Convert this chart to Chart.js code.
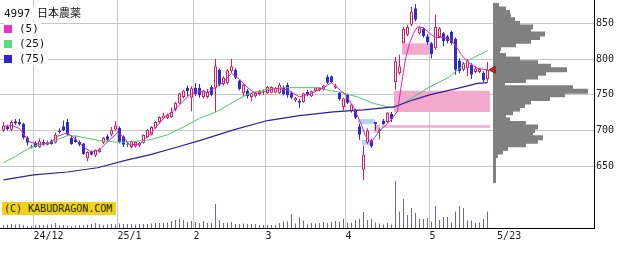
<!DOCTYPE html>
<html>
<head>
<meta charset="utf-8">
<title>4997 日本農薬</title>
<script src="https://cdn.jsdelivr.net/npm/chart.js@4.4.1/dist/chart.umd.min.js"></script>
<style>
  body { margin: 0; background: #fff; }
  #wrap { position: relative; width: 639px; height: 255px; }
  .lg { position: absolute; left: 4px; font: 11px "DejaVu Sans Mono", "Noto Sans CJK JP", monospace; color: #111; background: #fff; line-height: 13px; padding-right: 2px; white-space: nowrap; }
  .sw { display: inline-block; width: 8px; height: 8px; margin-right: 7px; vertical-align: -1px; }
  #copy { position: absolute; left: 2px; top: 202px; width: 114px; height: 13px; background: #f0d21c; font: 10px "DejaVu Sans Mono", monospace; line-height: 13px; color: #222; padding-left: 2px; box-sizing: border-box; white-space: nowrap; }
</style>
</head>
<body>
<div id="wrap">
  <canvas id="chart" width="639" height="255"></canvas>
  <div class="lg" style="top:7px">4997 日本農薬</div>
  <div class="lg" style="top:22px"><span class="sw" style="background:#ee33cc"></span>(5)</div>
  <div class="lg" style="top:37px"><span class="sw" style="background:#55dd77"></span>(25)</div>
  <div class="lg" style="top:52px"><span class="sw" style="background:#3322cc"></span>(75)</div>
  <div id="copy">(C) KABUDRAGON.COM</div>
</div>
<script>
// ---------------------------------------------------------------------------
// Daily prices (one entry per trading day, 24/11 .. 25/5/23)
// ---------------------------------------------------------------------------

var opens = [700,706,701,713,712,710,690,677,683,677, 684,680,686,683,700,706,712,690,688,684,
  682,661,670,665,670,683,692,694,701,704, 692,681,677,678,679,683,691,694,704,712,
  717,718,719,729,738,747,760,746,760,760, 747,747,761,760,785,765,766,783,785,770,
  752,756,747,748,751,755,752,753,753,752, 760,764,753,742,742,740,754,748,755,756,
  757,775,776,760,753,733,750,727,729,706, 645,683,686,712,700,714,712,723,768,780,
  822,834,848,871,836,842,832,822,815,831, 836,832,838,828,798,785,787,792,782,782,
  781,772];
var highs = [712,708,714,716,716,711,692,680,685,689, 687,686,688,697,703,714,716,693,693,686,
  683,671,672,674,676,691,695,705,713,706, 693,684,686,685,684,695,702,706,713,720,
  725,724,732,740,753,757,763,762,766,765, 757,758,763,800,787,776,786,800,787,771,
  766,758,753,754,756,757,762,762,761,767, 763,767,755,747,744,753,757,756,761,761,
  764,778,777,765,754,746,751,737,730,709, 679,703,688,712,704,716,726,726,803,806,
  845,848,873,877,846,844,835,824,862,845, 838,834,840,830,801,796,800,794,790,788,
  783,796];
var lows = [698,700,699,708,707,688,679,675,676,676, 679,679,680,682,696,699,693,680,683,678,
  666,657,665,663,669,681,685,692,700,682, 677,677,675,676,677,682,690,693,703,710,
  716,716,718,727,737,745,748,727,748,746, 745,745,748,726,762,763,764,781,772,756,
  748,745,741,746,749,750,751,752,752,751, 749,746,744,740,732,739,748,747,754,755,
  756,765,766,758,742,728,737,725,716,687, 631,681,676,700,688,708,711,712,757,778,
  822,832,846,853,834,830,820,801,813,829, 818,822,820,778,780,783,776,772,780,780,
  768,768];
var closes = [707,702,712,710,709,690,683,677,677,685, 680,684,681,694,698,700,694,681,684,680,
  667,670,666,673,674,690,687,701,707,684, 680,681,685,684,683,694,701,705,712,719,
  721,722,726,739,752,756,755,759,751,749, 756,754,750,790,764,774,784,790,774,758,
  764,748,752,753,755,755,761,761,760,764, 751,749,746,746,739,752,750,755,760,760,
  763,767,768,763,744,745,739,736,718,694, 666,700,678,709,700,709,725,716,797,790,
  842,845,866,855,844,832,823,807,845,843, 825,825,822,785,783,794,797,778,787,786,
  770,785];
var volumes = [6,7,8,7,8,6,4,4,6,6, 6,7,7,10,6,6,5,4,5,6,
  6,7,8,10,8,6,7,8,7,9, 8,8,8,7,8,8,8,9,10,10,
  10,11,14,16,18,16,12,14,12,10, 14,10,10,48,16,10,10,12,8,8,
  9,8,8,8,6,6,6,6,6,10, 13,13,28,9,21,15,7,10,9,10,
  12,10,12,14,12,18,11,11,16,18, 32,16,18,11,9,7,10,7,94,33,
  58,26,40,30,18,18,20,13,44,16, 22,22,11,33,44,40,15,15,10,11,
  18,33];

// moving averages (day index -> price)
var ma5Days = [0,2,4,6.5,9,11.5,13.5,16,18,20,22,24,26,28.5,30,31.5,34,36.5,40,43.5,46.5,49,51,53,55,57,59,61,63,65,68,71,74,77,80,82,83.5,85.5,87.5,89.5,90.5,92,94,96.5,98.5,99.5,100.5,101.5,102.5,103.5,105,106.5,108,110,112,113.5,114.5,116,118.5,121];
var ma5Vals = [706,707,703,684,681,682,692,697,688,677,670,673,684,697,691,680,681,694,717,733,750,755,753,760,768,780,772,760,752,754,759,757,747,752,760,767,760,750,733,708,692,684,700,712,727,765,800,822,836,845,844,836,830,830,826,815,806,796,787,785];
var ma25Days = [0,3,6.5,9,12.5,16,18.5,21,24,28,31,36.5,41,45,49,53.5,57.5,61.5,65,70,75,79,81.5,84,88.5,92.5,97,99,102.5,106.5,111.5,116.5,121];
var ma25Vals = [655,664,676,680,685,693,692,689,686,684,684,687,694,705,717,727,740,752,757,760,760,760,756,754,747,738,732,735,747,761,775,799,812];
var ma75Days = [0,7.5,16,23.5,31,36.5,43.5,49,57.5,66,74,82.5,90,97.5,102.5,106.5,113.5,118.5,121];
var ma75Vals = [631,638,642,648,659,666,677,686,701,714,721,726,729,733,743,750,759,766,767];

// price gaps (windows) still drawn on the chart
var gapFrom = [88.6, 89.6, 92.6, 94.6, 97.6, 99.6];
var gapTo   = [92.9, 92.1, 94.1, 121.6, 121.6, 106.4];
var gapLow  = [709, 680, 697, 704, 726, 806];
var gapHigh = [716, 687, 708, 707.5, 755.5, 822];
var gapDown = [true, true, false, false, false, false];

// volume by price profile
var profilePrices = [630,635,640,645,650,655,660,665,670,675, 680,685,690,695,700,705,710,715,720,725,
  730,735,740,745,750,755,760,765,770,775, 780,785,790,795,800,805,810,815,820,825,
  830,835,840,845,850,855,860,865,870,875];
var profileVols = [3,3,3,3,3,3,3,5,10,15, 33,45,50,40,42,45,33,17,13,20,
  27,32,38,57,72,95,80,12,33,45, 53,74,58,45,27,13,7,8,23,38,
  47,52,38,40,27,22,18,17,13,6];

// axis ticks
var monthTicks = [7.5, 28.5, 47.5, 65.5, 85.5, 106.5, 123.4];
var monthLabels = ['24/12', '25/1', '2', '3', '4', '5', '5/23'];
var priceTicks = [650, 700, 750, 800, 850];

// ---------------------------------------------------------------------------
// Build chart
// ---------------------------------------------------------------------------

var UP = '#dc1a5c', DOWN = '#2d2dcc', DOJI = '#1a8a1a';
var lastIdx = closes.length - 1;

function dir(i) {
  return closes[i] > opens[i] ? 1 : (closes[i] < opens[i] ? -1 : 0);
}
function candleColor(i) {
  var d = dir(i);
  return d > 0 ? UP : (d < 0 ? DOWN : DOJI);
}

var bodies = [], wicks = [], vols = [];
for (var i = 0; i < closes.length; i++) {
  var b = dir(i) === 0 ? [opens[i] - 0.7, opens[i] + 0.7] : [opens[i], closes[i]];
  bodies.push({x: i, y: b});
  wicks.push({x: i, y: [lows[i], highs[i]]});
  vols.push({x: i, y: volumes[i]});
}

function pairs(days, vals) {
  return days.map(function (d, k) { return {x: d, y: vals[k]}; });
}

var datasets = [];

// gap boxes (two lines filled between)
for (var g = 0; g < gapFrom.length; g++) {
  var col = gapDown[g] ? '#b2d4f2' : '#f3a9cc';
  datasets.push({
    type: 'line', order: 20, data: [{x: gapFrom[g], y: gapHigh[g]}, {x: gapTo[g], y: gapHigh[g]}],
    fill: '+1', backgroundColor: col, borderWidth: 0, pointRadius: 0
  });
  datasets.push({
    type: 'line', order: 20, data: [{x: gapFrom[g], y: gapLow[g]}, {x: gapTo[g], y: gapLow[g]}],
    fill: false, borderWidth: 0, pointRadius: 0
  });
}

datasets.push({
  type: 'bar', order: 15, indexAxis: 'y', xAxisID: 'xp', yAxisID: 'y',
  data: profilePrices.map(function (p, k) { return {x: profileVols[k], y: p}; }),
  backgroundColor: '#808080', barThickness: 5, inflateAmount: 0, grouped: false
});

datasets.push({
  type: 'bar', order: 12, yAxisID: 'yv', data: vols, grouped: false,
  barThickness: 1, inflateAmount: 0, backgroundColor: '#6b6b9b'
});

datasets.push({
  type: 'bar', order: 10, data: wicks, grouped: false, barThickness: 1, inflateAmount: 0,
  backgroundColor: function (ctx) { return candleColor(ctx.dataIndex); }
});

datasets.push({
  type: 'bar', order: 9, data: bodies, grouped: false, barThickness: 3, inflateAmount: 0,
  borderWidth: 1, borderSkipped: false,
  borderColor: function (ctx) { return candleColor(ctx.dataIndex); },
  backgroundColor: function (ctx) { return dir(ctx.dataIndex) > 0 ? '#ffffff' : candleColor(ctx.dataIndex); }
});

datasets.push({ type: 'line', order: 6, data: pairs(ma25Days, ma25Vals), borderColor: '#4cc86c', borderWidth: 1, pointRadius: 0, fill: false });
datasets.push({ type: 'line', order: 5, data: pairs(ma75Days, ma75Vals), borderColor: '#2f1ea0', borderWidth: 1.2, pointRadius: 0, fill: false });
datasets.push({ type: 'line', order: 4, data: pairs(ma5Days, ma5Vals), borderColor: '#e020c0', borderWidth: 1, pointRadius: 0, fill: false });

datasets.push({
  type: 'line', order: 0, showLine: false, data: [{x: lastIdx + 1.4, y: closes[lastIdx]}],
  pointStyle: 'triangle', rotation: -90, pointRadius: 4,
  backgroundColor: '#ee1c1c', borderColor: '#771111', borderWidth: 1
});

var tickFont = {family: '"DejaVu Sans Mono", monospace', size: 10};

var chart = new Chart(document.getElementById('chart'), {
  type: 'bar',
  data: {datasets: datasets},
  options: {
    responsive: false,
    animation: false,
    events: [],
    layout: {padding: 0, autoPadding: false},
    plugins: {legend: {display: false}, tooltip: {enabled: false}},
    scales: {
      x: {
        type: 'linear', min: -0.875, max: 147.625, offset: false,
        afterBuildTicks: function (s) { s.ticks = monthTicks.map(function (v) { return {value: v}; }); },
        afterFit: function (s) { s.height = 27; s.paddingLeft = 0; s.paddingRight = 0; },
        ticks: {
          autoSkip: false, maxRotation: 0, align: 'start', padding: 2, color: '#222', font: tickFont,
          callback: function (v, k) { return monthLabels[k]; }
        },
        grid: {
          drawTicks: false, offset: false,
          color: function (ctx) { return ctx.tick && ctx.tick.value > lastIdx ? 'rgba(0,0,0,0)' : '#c6c6c6'; }
        },
        border: {display: true, color: '#000'}
      },
      y: {
        type: 'linear', position: 'right', min: 563.7, max: 882.6, offset: false,
        afterBuildTicks: function (s) { s.ticks = priceTicks.map(function (v) { return {value: v}; }); },
        afterFit: function (s) { s.width = 45; s.paddingTop = 0; s.paddingBottom = 0; },
        ticks: {padding: 2, color: '#222', font: tickFont},
        grid: {drawTicks: false, offset: false, color: '#c6c6c6'},
        border: {display: true, color: '#000'}
      },
      yv: {type: 'linear', display: false, offset: false, min: 0, max: 456},
      xp: {type: 'linear', axis: 'x', display: false, offset: false, min: -493, max: 101}
    }
  }
});
</script>
</body>
</html>
